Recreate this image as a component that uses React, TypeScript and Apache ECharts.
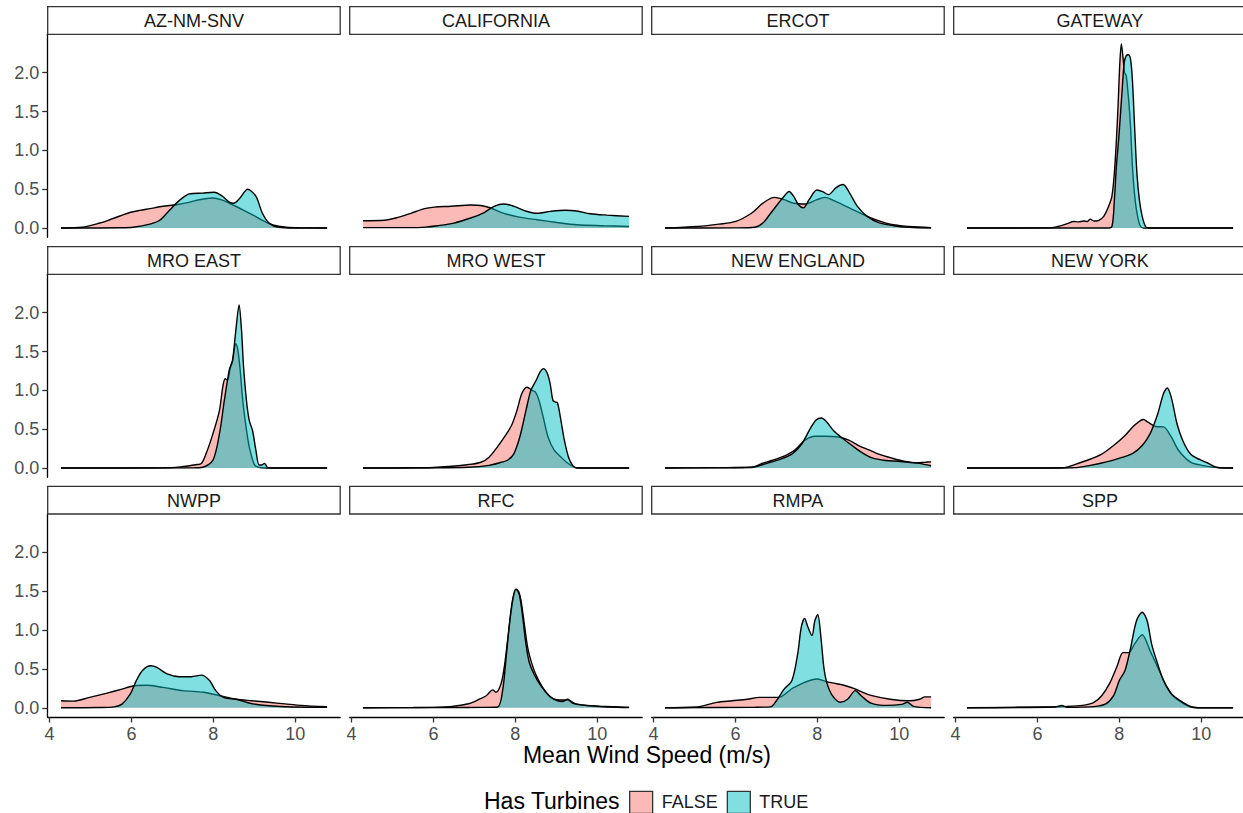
import React, { useEffect, useRef } from 'react';
import * as echarts from 'echarts';

// ---------- data ----------
const panelNames = ['AZ-NM-SNV', 'CALIFORNIA', 'ERCOT', 'GATEWAY', 'MRO EAST', 'MRO WEST', 'NEW ENGLAND', 'NEW YORK', 'NWPP', 'RFC', 'RMPA', 'SPP'];
const groupNames = ['FALSE', 'TRUE'];
const xTicks = [4, 6, 8, 10];
const yTicks = [0, 0.5, 1, 1.5, 2];
const xTitle = 'Mean Wind Speed (m/s)';
const legendTitle = 'Has Turbines';

const azFalse = [[4.28,0],[4.8,0.01],[5.23,0.065],[5.47,0.107],[5.72,0.155],[5.96,0.2],[6.2,0.227],[6.45,0.25],[6.77,0.28],[7.1,0.3],[7.4,0.33],[7.66,0.365],[7.98,0.387],[8.22,0.36],[8.47,0.3],[8.72,0.235],[8.96,0.17],[9.2,0.1],[9.45,0.04],[9.78,0.01],[10.2,0.002],[10.78,0]];
const azTrue = [[4.28,0],[5.0,0.001],[5.72,0.003],[6.04,0.01],[6.45,0.05],[6.69,0.1],[6.93,0.23],[7.18,0.36],[7.42,0.44],[7.74,0.45],[8.02,0.46],[8.22,0.41],[8.4,0.33],[8.5,0.32],[8.64,0.38],[8.84,0.5],[9.04,0.41],[9.2,0.19],[9.37,0.06],[9.6,0.01],[10.0,0.001],[10.78,0]];

const caFalse = [[4.28,0.094],[4.8,0.1],[5.13,0.137],[5.45,0.19],[5.78,0.25],[6.02,0.27],[6.43,0.28],[6.91,0.297],[7.16,0.29],[7.4,0.258],[7.72,0.19],[8.13,0.137],[8.53,0.107],[9.02,0.072],[9.5,0.043],[10.16,0.03],[10.78,0.02]];
const caTrue = [[4.28,0.005],[5.45,0.005],[5.8,0.012],[6.1,0.03],[6.5,0.064],[6.91,0.129],[7.24,0.2],[7.48,0.28],[7.72,0.31],[7.97,0.28],[8.25,0.22],[8.53,0.19],[8.86,0.215],[9.22,0.23],[9.5,0.22],[9.83,0.185],[10.24,0.167],[10.78,0.15]];

const ercotFalse = [[4.28,0],[5.07,0.02],[5.6,0.05],[6.01,0.085],[6.39,0.19],[6.67,0.32],[6.95,0.395],[7.19,0.365],[7.42,0.32],[7.71,0.31],[7.99,0.365],[8.18,0.395],[8.46,0.34],[8.84,0.245],[9.31,0.13],[9.78,0.05],[10.25,0.02],[10.78,0.005]];
const ercotTrue = [[4.28,0],[6.01,0.002],[6.48,0.01],[6.67,0.064],[6.86,0.19],[7.05,0.32],[7.19,0.41],[7.31,0.47],[7.42,0.41],[7.54,0.3],[7.66,0.26],[7.8,0.365],[7.99,0.49],[8.13,0.47],[8.27,0.43],[8.46,0.52],[8.63,0.56],[8.79,0.45],[8.98,0.28],[9.22,0.15],[9.5,0.07],[9.87,0.03],[10.25,0.01],[10.78,0]];

const gatewayFalse = [[4.28,0],[6.3,0.002],[6.5,0.02],[6.64,0.04],[6.75,0.06],[6.88,0.085],[7.0,0.08],[7.13,0.09],[7.22,0.085],[7.29,0.115],[7.38,0.09],[7.5,0.1],[7.62,0.15],[7.74,0.28],[7.82,0.41],[7.88,0.71],[7.93,1.14],[7.97,1.57],[8.01,2.09],[8.05,2.37],[8.09,2.2],[8.13,2.0],[8.17,1.96],[8.22,1.7],[8.27,1.35],[8.32,0.8],[8.37,0.45],[8.43,0.2],[8.51,0.03],[8.6,0],[10.78,0]];
const gatewayTrue = [[4.28,0],[7.7,0],[7.82,0.02],[7.88,0.365],[7.93,0.8],[7.99,1.18],[8.07,1.78],[8.12,2.13],[8.17,2.22],[8.22,2.23],[8.27,2.19],[8.32,1.91],[8.37,1.35],[8.43,0.71],[8.49,0.365],[8.56,0.15],[8.64,0.02],[8.72,0],[10.78,0]];

const mroEastFalse = [[4.28,0],[6.8,0.003],[7.2,0.015],[7.42,0.03],[7.6,0.045],[7.7,0.054],[7.82,0.18],[7.99,0.44],[8.15,0.74],[8.23,1.04],[8.29,1.15],[8.35,1.13],[8.41,1.28],[8.47,1.37],[8.55,1.6],[8.59,1.55],[8.65,1.3],[8.72,0.87],[8.8,0.53],[8.88,0.27],[9.0,0.05],[9.1,0.01],[9.3,0],[10.78,0]];
const mroEastTrue = [[4.28,0],[7.5,0.002],[7.74,0.01],[7.99,0.1],[8.15,0.44],[8.27,0.87],[8.39,1.26],[8.47,1.39],[8.55,1.77],[8.63,2.1],[8.69,1.77],[8.74,1.3],[8.81,0.87],[8.88,0.61],[8.96,0.48],[9.04,0.23],[9.12,0.04],[9.19,0.04],[9.25,0.06],[9.33,0.005],[9.45,0],[10.78,0]];

const mroWestFalse = [[4.28,0],[5.5,0.003],[6.0,0.008],[6.37,0.02],[6.86,0.045],[7.16,0.075],[7.36,0.14],[7.56,0.27],[7.76,0.42],[7.91,0.55],[8.04,0.74],[8.16,0.96],[8.29,1.04],[8.41,1.0],[8.49,0.98],[8.58,0.87],[8.68,0.66],[8.8,0.4],[8.95,0.23],[9.1,0.15],[9.25,0.075],[9.45,0.01],[9.6,0],[10.78,0]];
const mroWestTrue = [[4.28,0],[6.0,0.002],[6.86,0.01],[7.36,0.035],[7.66,0.075],[7.81,0.1],[7.96,0.18],[8.11,0.4],[8.26,0.74],[8.38,1.0],[8.51,1.13],[8.61,1.24],[8.69,1.28],[8.78,1.22],[8.85,1.09],[8.92,0.87],[8.98,0.85],[9.03,0.84],[9.1,0.66],[9.2,0.355],[9.3,0.14],[9.4,0.035],[9.5,0],[10.78,0]];

const neFalse = [[4.28,0],[5.5,0.003],[6.4,0.005],[6.65,0.06],[6.89,0.097],[7.22,0.16],[7.46,0.235],[7.7,0.36],[7.95,0.41],[8.2,0.41],[8.52,0.4],[8.77,0.36],[9.01,0.29],[9.26,0.235],[9.5,0.18],[9.83,0.127],[10.15,0.084],[10.4,0.068],[10.64,0.075],[10.78,0.08]];
const neTrue = [[4.28,0],[5.58,0.005],[6.4,0.013],[6.73,0.054],[7.05,0.105],[7.38,0.18],[7.62,0.31],[7.83,0.51],[7.97,0.62],[8.1,0.645],[8.22,0.6],[8.4,0.48],[8.6,0.39],[8.85,0.29],[9.09,0.2],[9.34,0.13],[9.67,0.097],[9.99,0.088],[10.32,0.07],[10.49,0.06],[10.78,0.03]];

const nyFalse = [[4.28,0],[6.0,0.001],[6.63,0.003],[6.91,0.045],[7.2,0.097],[7.57,0.18],[7.86,0.29],[8.14,0.42],[8.37,0.55],[8.59,0.625],[8.7,0.59],[8.89,0.535],[9.08,0.53],[9.27,0.4],[9.45,0.226],[9.74,0.077],[10.02,0.035],[10.39,0.005],[10.78,0]];
const nyTrue = [[4.28,0],[6.5,0.001],[6.91,0.005],[7.29,0.035],[7.57,0.065],[7.95,0.118],[8.33,0.19],[8.56,0.29],[8.75,0.44],[8.94,0.7],[9.08,0.96],[9.17,1.03],[9.27,0.91],[9.41,0.57],[9.55,0.355],[9.74,0.18],[9.97,0.107],[10.16,0.065],[10.35,0.013],[10.6,0],[10.78,0]];

const nwppFalse = [[4.28,0.09],[4.58,0.085],[4.98,0.133],[5.38,0.185],[5.77,0.24],[6.07,0.284],[6.37,0.29],[6.77,0.262],[7.26,0.22],[7.76,0.2],[8.16,0.155],[8.56,0.11],[8.95,0.09],[9.35,0.07],[9.75,0.05],[10.14,0.03],[10.78,0.012]];
const nwppTrue = [[4.28,0],[5.2,0.003],[5.58,0.012],[5.77,0.047],[5.97,0.176],[6.12,0.35],[6.27,0.48],[6.47,0.54],[6.62,0.52],[6.87,0.435],[7.17,0.4],[7.46,0.4],[7.71,0.42],[7.91,0.35],[8.06,0.22],[8.26,0.13],[8.56,0.11],[8.85,0.065],[9.15,0.035],[9.75,0.012],[10.78,0.005]];

const rfcFalse = [[4.28,0],[5.5,0.003],[6.0,0.005],[6.5,0.02],[6.88,0.055],[7.12,0.11],[7.29,0.155],[7.45,0.23],[7.53,0.2],[7.65,0.305],[7.73,0.52],[7.81,0.86],[7.9,1.25],[7.98,1.49],[8.02,1.52],[8.08,1.5],[8.14,1.38],[8.22,1.08],[8.3,0.78],[8.38,0.61],[8.5,0.43],[8.67,0.26],[8.87,0.13],[9.07,0.1],[9.28,0.1],[9.48,0.05],[9.72,0.03],[10.05,0.02],[10.78,0.005]];
const rfcTrue = [[4.28,0],[6.5,0.003],[7.2,0.005],[7.57,0.01],[7.69,0.22],[7.77,0.61],[7.85,1.04],[7.93,1.38],[8.02,1.53],[8.1,1.45],[8.18,1.17],[8.26,0.82],[8.34,0.585],[8.46,0.43],[8.63,0.28],[8.83,0.155],[8.99,0.1],[9.15,0.08],[9.28,0.11],[9.4,0.06],[9.64,0.035],[9.97,0.02],[10.3,0.01],[10.78,0.003]];

const rmpaFalse = [[4.28,0],[5.07,0.01],[5.54,0.069],[5.92,0.09],[6.29,0.11],[6.58,0.133],[7.05,0.133],[7.42,0.26],[7.99,0.37],[8.2,0.34],[8.37,0.32],[8.65,0.29],[8.89,0.25],[9.1,0.2],[9.31,0.16],[9.78,0.11],[10.25,0.09],[10.5,0.11],[10.63,0.14],[10.78,0.14]];
const rmpaTrue = [[4.28,0],[6.48,0.007],[6.86,0.012],[7.0,0.09],[7.19,0.24],[7.38,0.35],[7.52,0.69],[7.61,1.04],[7.69,1.15],[7.77,1.04],[7.87,0.93],[7.94,1.12],[8.01,1.2],[8.09,0.9],[8.16,0.52],[8.24,0.31],[8.37,0.155],[8.56,0.07],[8.74,0.11],[8.93,0.22],[9.07,0.155],[9.31,0.06],[9.69,0.03],[10.06,0.043],[10.2,0.07],[10.35,0.017],[10.78,0]];

const sppFalse = [[4.28,0],[6.26,0.01],[6.63,0.015],[7.1,0.03],[7.38,0.069],[7.57,0.155],[7.76,0.31],[7.95,0.54],[8.09,0.71],[8.23,0.71],[8.37,0.82],[8.56,0.94],[8.75,0.735],[8.94,0.52],[9.12,0.31],[9.31,0.155],[9.55,0.06],[9.74,0.01],[9.9,0],[10.78,0]];
const sppTrue = [[4.28,0],[6.44,0.01],[6.59,0.03],[6.73,0.005],[7.38,0.015],[7.67,0.05],[7.86,0.155],[8.0,0.35],[8.14,0.48],[8.28,0.78],[8.42,1.12],[8.56,1.23],[8.68,1.12],[8.79,0.82],[8.94,0.56],[9.08,0.35],[9.27,0.18],[9.55,0.07],[9.78,0.01],[10.0,0],[10.78,0]];

const falseCurves = [azFalse, caFalse, ercotFalse, gatewayFalse, mroEastFalse, mroWestFalse, neFalse, nyFalse, nwppFalse, rfcFalse, rmpaFalse, sppFalse];
const trueCurves = [azTrue, caTrue, ercotTrue, gatewayTrue, mroEastTrue, mroWestTrue, neTrue, nyTrue, nwppTrue, rfcTrue, rmpaTrue, sppTrue];

// ---------- layout / style ----------
const FONT = '"Liberation Sans", Arial, Helvetica, sans-serif';
const FILLS = ['#F8766D', '#00BFC4'];
const KEY_FILLS = ['#FBBAB6', '#7FDFE1'];
const COL_LEFT = [47.7, 349.7, 651.7, 953.7];
const ROW_TOP = [34.3, 274.3, 514];
const PANEL_W = 292.5;
const PANEL_H = 203;
const STRIP_H = 27.6;
const X_MIN = 3.955, X_MAX = 11.1;
const Y_MIN = -0.119, Y_MAX = 2.494;

function buildOption() {
  const grids: any[] = [];
  const xAxes: any[] = [];
  const yAxes: any[] = [];
  const series: any[] = [];
  const graphics: any[] = [];

  panelNames.forEach((name, i) => {
    const col = i % 4;
    const row = Math.floor(i / 4);
    const left = COL_LEFT[col];
    const top = ROW_TOP[row];
    grids.push({ left, top, width: PANEL_W, height: PANEL_H, outerBoundsMode: 'none', containLabel: false });

    const showX = row === 2;
    xAxes.push({
      type: 'value', gridIndex: i, min: X_MIN, max: X_MAX, show: showX,
      splitLine: { show: false },
      axisLine: { show: true, onZero: false, lineStyle: { color: '#000', width: 1.3 } },
      axisTick: { show: true, customValues: xTicks, length: 5.5, lineStyle: { color: '#333', width: 1.3 } },
      axisLabel: { show: true, customValues: xTicks, color: '#4D4D4D', fontSize: 18, fontFamily: FONT, margin: 8, formatter: (v: number) => String(v) },
    });
    const showY = col === 0;
    yAxes.push({
      type: 'value', gridIndex: i, min: Y_MIN, max: Y_MAX, show: showY,
      splitLine: { show: false },
      axisLine: { show: true, onZero: false, lineStyle: { color: '#000', width: 1.3 } },
      axisTick: { show: true, customValues: yTicks, length: 5.5, lineStyle: { color: '#333', width: 1.3 } },
      axisLabel: { show: true, customValues: yTicks, color: '#4D4D4D', fontSize: 18, fontFamily: FONT, margin: 8.5, formatter: (v: number) => v.toFixed(1) },
    });

    [falseCurves[i], trueCurves[i]].forEach((curve, g) => {
      series.push({
        type: 'line', name: groupNames[g], xAxisIndex: i, yAxisIndex: i,
        data: curve, smooth: 0.3, symbol: 'none', showSymbol: false, silent: true,
        z: 2 + g,
        lineStyle: { color: '#000', width: 1.4 },
        areaStyle: { color: FILLS[g], opacity: 0.5 },
        itemStyle: { color: KEY_FILLS[g] },
      });
    });

    // facet strip
    graphics.push({
      type: 'rect', shape: { x: left, y: top - STRIP_H, width: PANEL_W, height: STRIP_H },
      style: { fill: '#FFFFFF', stroke: '#333', lineWidth: 1.3 }, silent: true, z: 10,
    });
    graphics.push({
      type: 'text', x: left + PANEL_W / 2, y: top - STRIP_H / 2 + 0.5, silent: true, z: 11,
      style: { text: name, fill: '#1A1A1A', font: `18px ${FONT}`, textAlign: 'center', textVerticalAlign: 'middle' },
    });
  });

  graphics.push({
    type: 'text', x: (COL_LEFT[0] + COL_LEFT[3] + PANEL_W) / 2, y: 755, silent: true,
    style: { text: xTitle, fill: '#000', font: `23px ${FONT}`, textAlign: 'center', textVerticalAlign: 'middle' },
  });
  graphics.push({
    type: 'text', x: 484, y: 800.5, silent: true,
    style: { text: legendTitle, fill: '#000', font: `23px ${FONT}`, textAlign: 'left', textVerticalAlign: 'middle' },
  });

  return {
    animation: false,
    backgroundColor: '#FFFFFF',
    grid: grids,
    xAxis: xAxes,
    yAxis: yAxes,
    series,
    legend: {
      show: true, left: 629, top: 790.7, padding: 0, orient: 'horizontal',
      itemWidth: 23, itemHeight: 22, itemGap: 9, icon: 'rect', selectedMode: false,
      textStyle: { fontSize: 18, color: '#1A1A1A', fontFamily: FONT, padding: [0, 0, 0, 4] },
      data: groupNames.map((n, g) => ({ name: n, icon: 'rect', itemStyle: { color: KEY_FILLS[g], borderColor: '#333', borderWidth: 1.3, opacity: 1 } })),
    },
    graphic: graphics,
  };
}

export default function App() {
  const ref = useRef<HTMLDivElement>(null);
  useEffect(() => {
    if (!ref.current) return;
    const chart = echarts.init(ref.current, null, { renderer: 'svg' });
    chart.setOption(buildOption() as any);
    return () => { chart.dispose(); };
  }, []);
  return <div ref={ref} style={{ position: 'fixed', left: 0, top: 0, width: 1243, height: 813, background: '#fff' }} />;
}
